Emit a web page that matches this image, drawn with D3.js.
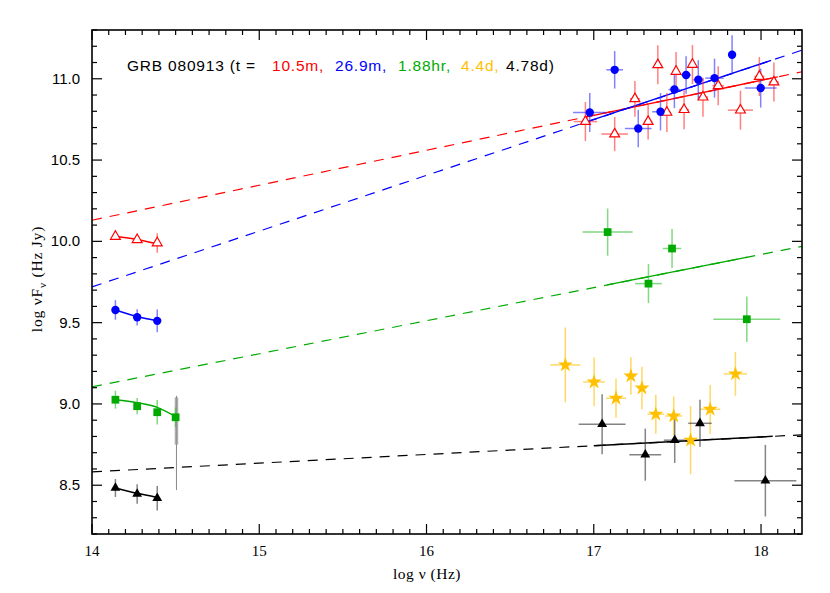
<!DOCTYPE html>
<html><head><meta charset="utf-8">
<script src="https://cdn.jsdelivr.net/npm/d3@7"></script>
<style>body{margin:0;background:#fff}</style>
</head><body><svg id="c" width="830" height="593"></svg>
<script>
// ---------------- data ----------------
const xTicks = [14, 15, 16, 17, 18];
const yTicks = [8.5, 9.0, 9.5, 10.0, 10.5, 11.0];

// 10.5 m (red, open triangles)
const redX    = [14.14, 14.27, 14.39, 16.95, 17.125, 17.246, 17.325, 17.383, 17.437, 17.492, 17.54, 17.59, 17.653, 17.744, 17.877, 17.99, 18.077];
const redY    = [10.03, 10.01, 9.99, 10.737, 10.66, 10.877, 10.737, 11.086, 10.793, 11.045, 10.81, 11.088, 10.887, 10.957, 10.807, 11.014, 10.98];
const redXerr = [0, 0, 0, 0.07, 0.08, 0.03, 0.025, 0.02, 0.025, 0.02, 0.03, 0.02, 0.03, 0.035, 0.075, 0.03, 0.03];
const redYerr = [0.015, 0.015, 0.06, 0.12, 0.105, 0.11, 0.11, 0.12, 0.12, 0.12, 0.12, 0.12, 0.12, 0.12, 0.12, 0.12, 0.12];

// 26.9 m (blue, circles)
const blueX    = [14.14, 14.27, 14.39, 16.976, 17.125, 17.266, 17.399, 17.482, 17.552, 17.625, 17.722, 17.827, 17.998];
const blueY    = [9.578, 9.533, 9.511, 10.793, 11.055, 10.694, 10.797, 10.934, 11.023, 10.994, 11.004, 11.148, 10.943];
const blueXerr = [0, 0, 0, 0.10, 0.05, 0.08, 0.05, 0.035, 0.03, 0.03, 0.055, 0.02, 0.095];
const blueYerr = [0.06, 0.05, 0.07, 0.12, 0.115, 0.115, 0.115, 0.115, 0.115, 0.12, 0.12, 0.12, 0.12];

// 1.88 hr (green, squares)
const greenX    = [14.14, 14.27, 14.39, 14.50, 17.083, 17.468, 17.327, 17.915];
const greenY    = [9.026, 8.986, 8.949, 8.918, 10.057, 9.956, 9.74, 9.521];
const greenXerr = [0, 0, 0, 0, 0.15, 0.055, 0.08, 0.20];
const greenYerr = [0.055, 0.05, 0.075, 0.06, 0.145, 0.12, 0.12, 0.14];

// 4.4 d (yellow, stars)
const yelX    = [16.83, 17.002, 17.133, 17.222, 17.288, 17.371, 17.478, 17.579, 17.696, 17.847];
const yelY    = [9.24, 9.135, 9.035, 9.172, 9.098, 8.937, 8.926, 8.777, 8.967, 9.185];
const yelXerr = [0.09, 0.065, 0.06, 0.03, 0.03, 0.05, 0.05, 0.01, 0.06, 0.07];
const yelYerr = [0.23, 0.15, 0.12, 0.115, 0.13, 0.12, 0.12, 0.21, 0.15, 0.135];

// 4.78 d (black, filled triangles)
const blkX    = [14.14, 14.27, 14.39, 17.05, 17.308, 17.484, 17.635, 18.026];
const blkY    = [8.483, 8.446, 8.42, 8.875, 8.688, 8.777, 8.881, 8.528];
const blkXerr = [0, 0, 0, 0.14, 0.095, 0.065, 0.07, 0.185];
const blkYerr = [0.055, 0.06, 0.075, 0.185, 0.16, 0.14, 0.145, 0.22];

// power-law fits: dashed (full range) and solid (data range) end points
const redFitDash   = [[14, 10.13], [18.245, 11.043]];
const redFitSolid  = [[16.95, 10.764], [18.1, 11.012]];
const blueFitDash  = [[14, 9.72], [18.245, 11.176]];
const blueFitSolid = [[16.97, 10.739], [18.06, 11.113]];
const greenFitDash = [[14, 9.105], [18.245, 9.969]];
const greenFitSolid= [[17.08, 9.732], [17.92, 9.903]];
const blkFitDash   = [[14, 8.582], [18.245, 8.81]];
const blkFitSolid  = [[17.0, 8.743], [18.07, 8.801]];

// optical/NIR model curves
const redModel   = [[14.14, 10.03], [14.27, 10.012], [14.39, 9.985]];
const blueModel  = [[14.14, 9.578], [14.27, 9.538], [14.39, 9.511]];
const greenModel = [[14.14, 9.026], [14.27, 9.008], [14.39, 8.979], [14.50, 8.922]];
const blkModel   = [[14.14, 8.483], [14.27, 8.45], [14.39, 8.425]];

// grey spectrum smudge at ~14.5
const greyX = 14.505, greyThin = [8.47, 9.05], greyThick = [8.75, 9.04];

const titleParts = [
  {t: "GRB 080913 (t =", c: "#000", x: 127},
  {t: "10.5m,", c: "#ff0000", x: 272},
  {t: "26.9m,", c: "#0000ff", x: 335},
  {t: "1.88hr,", c: "#00aa00", x: 398},
  {t: "4.4d,", c: "#ffc000", x: 461},
  {t: "4.78d)", c: "#000", x: 506}
];

// ---------------- drawing ----------------
const L = 92, R = 802, T = 30, B = 534;
const x = d3.scaleLinear().domain([14, 18.245]).range([L, R]);
const y = d3.scaleLinear().domain([8.2, 11.3]).range([B, T]);
const svg = d3.select("#c");
const line = d3.line().x(d => x(d[0])).y(d => y(d[1]));

// fit lines
function fit(dash, solid, col) {
  svg.append("path").attr("d", line(dash)).attr("stroke", col).attr("stroke-width", 1.2)
    .attr("fill", "none").attr("stroke-dasharray", "10,8");
  svg.append("path").attr("d", line(solid)).attr("stroke", col).attr("stroke-width", 1.4).attr("fill", "none");
}
fit(redFitDash, redFitSolid, "#ff0000");
fit(blueFitDash, blueFitSolid, "#0000ff");
fit(greenFitDash, greenFitSolid, "#00aa00");
fit(blkFitDash, blkFitSolid, "#000");

// grey smudge
svg.append("line").attr("x1", x(greyX)).attr("x2", x(greyX)).attr("y1", y(greyThin[0])).attr("y2", y(greyThin[1]))
  .attr("stroke", "#888").attr("stroke-width", 1);
svg.append("line").attr("x1", x(greyX)).attr("x2", x(greyX)).attr("y1", y(greyThick[0])).attr("y2", y(greyThick[1]))
  .attr("stroke", "#999").attr("stroke-width", 3.5).attr("opacity", 0.8);

// error bars
function errs(X, Y, XE, YE, col) {
  const g = svg.append("g").attr("stroke", col).attr("stroke-width", 1.5).attr("opacity", 0.6);
  X.forEach((xv, i) => {
    if (YE[i] > 0) g.append("line").attr("x1", x(xv)).attr("x2", x(xv)).attr("y1", y(Y[i] - YE[i])).attr("y2", y(Y[i] + YE[i]));
    if (XE[i] > 0) g.append("line").attr("x1", x(xv - XE[i])).attr("x2", x(xv + XE[i])).attr("y1", y(Y[i])).attr("y2", y(Y[i]));
  });
}
errs(redX, redY, redXerr, redYerr, "#ff3030");
errs(blueX, blueY, blueXerr, blueYerr, "#3030ff");
errs(greenX, greenY, greenXerr, greenYerr, "#30c030");
errs(yelX, yelY, yelXerr, yelYerr, "#ffc000");
errs(blkX, blkY, blkXerr, blkYerr, "#333");

// model curves
[[redModel, "#ff0000"], [blueModel, "#0000ff"], [greenModel, "#00aa00"], [blkModel, "#000"]].forEach(([m, c]) => {
  svg.append("path").attr("d", line.curve(d3.curveMonotoneX)(m)).attr("stroke", c).attr("stroke-width", 1.5).attr("fill", "none");
});
line.curve(d3.curveLinear);

// markers
function marks(X, Y, type, size, fill, stroke, sw) {
  const sym = d3.symbol().type(type).size(size);
  svg.append("g").selectAll("path").data(X).join("path")
    .attr("d", sym).attr("transform", (d, i) => `translate(${x(d)},${y(Y[i])})`)
    .attr("fill", fill).attr("stroke", stroke).attr("stroke-width", sw);
}
marks(redX, redY, d3.symbolTriangle, 42, "#fff", "#ff0000", 1.2);
marks(blueX, blueY, d3.symbolCircle, 55, "#0000ff", "none", 0);
marks(greenX, greenY, d3.symbolSquare, 60, "#00aa00", "none", 0);
marks(yelX, yelY, d3.symbolStar, 70, "#ffc000", "none", 0);
marks(blkX, blkY, d3.symbolTriangle, 42, "#000", "none", 0);

// frame and ticks
svg.append("rect").attr("x", L).attr("y", T).attr("width", R - L).attr("height", B - T)
  .attr("fill", "none").attr("stroke", "#000").attr("stroke-width", 1.6);
const tg = svg.append("g").attr("stroke", "#000").attr("stroke-width", 1.2);
for (let v = 14.0; v <= 18.245 + 1e-9; v += 0.1) {
  const vv = Math.round(v * 10) / 10;
  const major = Math.abs(vv - Math.round(vv)) < 1e-6;
  const len = major ? 10 : 5;
  tg.append("line").attr("x1", x(vv)).attr("x2", x(vv)).attr("y1", B).attr("y2", B - len);
  tg.append("line").attr("x1", x(vv)).attr("x2", x(vv)).attr("y1", T).attr("y2", T + len);
}
for (let v = 8.2; v <= 11.3 + 1e-9; v += 0.1) {
  const vv = Math.round(v * 10) / 10;
  const major = Math.abs(vv * 2 - Math.round(vv * 2)) < 1e-6;
  const len = major ? 10 : 5;
  tg.append("line").attr("x1", L).attr("x2", L + len).attr("y1", y(vv)).attr("y2", y(vv));
  tg.append("line").attr("x1", R).attr("x2", R - len).attr("y1", y(vv)).attr("y2", y(vv));
}

// tick labels
svg.append("g").selectAll("text").data(xTicks).join("text")
  .attr("x", d => x(d)).attr("y", 556).attr("text-anchor", "middle")
  .attr("font-family", "Liberation Serif, DejaVu Serif, serif").attr("font-size", 15).text(d => d);
svg.append("g").selectAll("text").data(yTicks).join("text")
  .attr("x", 80).attr("y", d => y(d) + 5).attr("text-anchor", "end")
  .attr("font-family", "Liberation Sans, Arial, sans-serif").attr("font-size", 15).text(d => d.toFixed(1));

// axis titles
svg.append("text").attr("x", (L + R) / 2 - 20).attr("y", 579).attr("text-anchor", "middle")
  .attr("font-family", "Liberation Serif, DejaVu Serif, serif").attr("font-size", 15.5).attr("letter-spacing", 0.5).text("log ν (Hz)");
const yl = svg.append("text").attr("transform", `translate(42,${(T + B) / 2 - 3}) rotate(-90)`).attr("text-anchor", "middle")
  .attr("font-family", "Liberation Serif, DejaVu Serif, serif").attr("font-size", 15.5).attr("letter-spacing", 0.8);
yl.append("tspan").text("log νF");
yl.append("tspan").attr("dy", 4).attr("font-size", 11).text("ν");
yl.append("tspan").attr("dy", -4).text(" (Hz Jy)");

// title
svg.append("g").selectAll("text").data(titleParts).join("text")
  .attr("x", d => d.x).attr("y", 71).attr("fill", d => d.c)
  .attr("font-family", "Liberation Sans, Arial, sans-serif").attr("font-size", 15.5).attr("letter-spacing", 0.8)
  .text(d => d.t);
</script></body></html>
